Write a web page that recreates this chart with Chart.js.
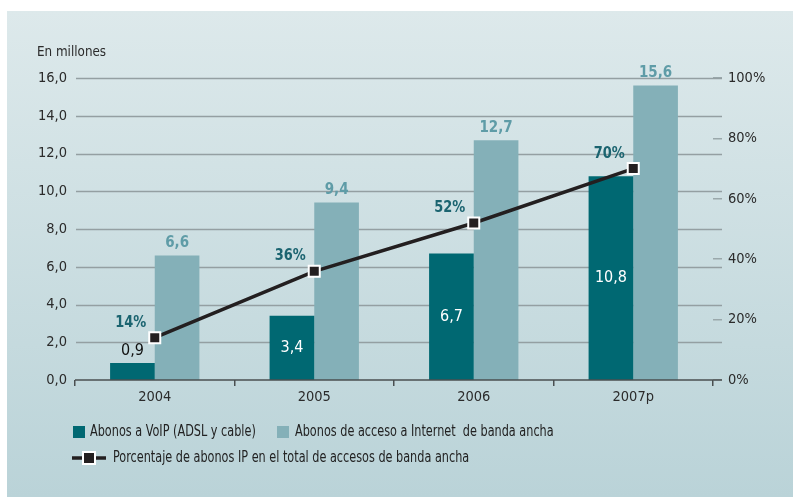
<!DOCTYPE html>
<html>
<head>
<meta charset="utf-8">
<script src="https://cdn.jsdelivr.net/npm/chart.js@4.4.1/dist/chart.umd.min.js"></script>
<style>
html, body { margin: 0; padding: 0; background: #fff; }
#wrap { position: relative; width: 793px; height: 497px; overflow: hidden; }
#panel { position: absolute; left: 7px; top: 11px; right: 0; bottom: 0;
  background: linear-gradient(#dde9eb, #bad3d8); }
canvas { position: absolute; left: 0; top: 0; }
</style>
</head>
<body>
<div id="wrap">
  <div id="panel"></div>
  <canvas id="chart" width="793" height="497"></canvas>
</div>
<script>
// Data
const years = ['2004', '2005', '2006', '2007p'];
const voip = [0.9, 3.4, 6.7, 10.8];            // millones
const broadband = [6.6, 9.4, 12.7, 15.6];      // millones
const ipShare = [14, 36, 52, 70];              // %
const leftTicks = [0, 2, 4, 6, 8, 10, 12, 14, 16];

const FONT = '"Liberation Sans Narrow", "DejaVu Sans Condensed", "Liberation Sans", sans-serif';
const DARK = '#006872';
const LIGHT = '#84b0b8';
const LINE = '#231f20';

const fmt = v => v.toFixed(1).replace('.', ',');

// squeezed text, the original uses a condensed face
function narrowText(ctx, s, x, y, sx) {
  ctx.save();
  ctx.translate(x, y);
  ctx.scale(sx, 1);
  ctx.fillText(s, 0, 0);
  ctx.restore();
}

// Gridlines that run past the plot area, plus axis line
const gridPlugin = {
  id: 'grid',
  beforeDatasetsDraw(chart) {
    const ctx = chart.ctx, y = chart.scales.y, ca = chart.chartArea;
    ctx.save();
    ctx.lineWidth = 1.5;
    ctx.strokeStyle = '#949fa2';
    leftTicks.forEach(t => {
      if (t === 0) return;
      const py = Math.round(y.getPixelForValue(t)) + 0.5;
      ctx.beginPath(); ctx.moveTo(ca.left + 1, py); ctx.lineTo(ca.right + 9, py); ctx.stroke();
    });
    ctx.restore();
  },
  afterDatasetsDraw(chart) {
    const ctx = chart.ctx, ca = chart.chartArea;
    ctx.save();
    ctx.lineWidth = 1.5;
    ctx.strokeStyle = '#4a4f50';
    ctx.beginPath(); ctx.moveTo(ca.left, ca.bottom); ctx.lineTo(ca.right + 9, ca.bottom); ctx.stroke();
    ctx.restore();
  }
};

// Value labels, title and legend
const labelPlugin = {
  id: 'labels',
  afterDraw(chart) {
    const ctx = chart.ctx;
    const mDark = chart.getDatasetMeta(0).data;
    const mLight = chart.getDatasetMeta(1).data;
    const mLine = chart.getDatasetMeta(2).data;
    ctx.save();
    ctx.textAlign = 'center';
    ctx.textBaseline = 'middle';

    // VoIP values
    ctx.font = '16px ' + FONT;
    voip.forEach((v, i) => {
      const b = mDark[i];
      if (v < 2) {
        ctx.fillStyle = '#111';
        ctx.fillText(fmt(v), b.x, b.y - 12);
      } else {
        ctx.fillStyle = '#fff';
        ctx.fillText(fmt(v), b.x, (b.y + b.base) / 2);
      }
    });

    // broadband values
    ctx.font = 'bold 15px ' + FONT;
    ctx.fillStyle = '#5f9ca7';
    broadband.forEach((v, i) => {
      const b = mLight[i];
      ctx.fillText(fmt(v), b.x, b.y - 12);
    });

    // percentage labels
    ctx.font = 'bold 16px ' + FONT;
    ctx.fillStyle = '#1b6470';
    ipShare.forEach((v, i) => {
      const p = mLine[i];
      narrowText(ctx, v + '%', p.x - 24, p.y - 15, 0.9);
    });

    // axis title
    ctx.textAlign = 'left';
    ctx.fillStyle = '#2b2b2b';
    ctx.font = '14px ' + FONT;
    narrowText(ctx, 'En millones', 37, 52, 0.95);

    // legend
    ctx.font = '15px ' + FONT;
    ctx.fillStyle = DARK;
    ctx.fillRect(73, 426, 12, 12);
    ctx.fillStyle = LIGHT;
    ctx.fillRect(277, 426, 12, 12);
    ctx.fillStyle = '#222';
    narrowText(ctx, 'Abonos a VoIP (ADSL y cable)', 90, 432, 0.835);
    narrowText(ctx, 'Abonos de acceso a Internet  de banda ancha', 295, 432, 0.835);

    ctx.strokeStyle = LINE;
    ctx.lineWidth = 3.5;
    ctx.beginPath(); ctx.moveTo(72, 458); ctx.lineTo(106, 458); ctx.stroke();
    ctx.fillStyle = '#fff';
    ctx.fillRect(82, 451, 14, 14);
    ctx.fillStyle = LINE;
    ctx.fillRect(84, 453, 10, 10);
    ctx.fillStyle = '#222';
    narrowText(ctx, 'Porcentaje de abonos IP en el total de accesos de banda ancha', 113, 458, 0.835);
    ctx.restore();
  }
};

new Chart(document.getElementById('chart'), {
  type: 'bar',
  data: {
    labels: years,
    datasets: [
      {
        label: 'Abonos a VoIP (ADSL y cable)',
        data: voip,
        backgroundColor: DARK,
        yAxisID: 'y',
        order: 2,
        categoryPercentage: 0.56,
        barPercentage: 1
      },
      {
        label: 'Abonos de acceso a Internet  de banda ancha',
        data: broadband,
        backgroundColor: LIGHT,
        yAxisID: 'y',
        order: 2,
        categoryPercentage: 0.56,
        barPercentage: 1
      },
      {
        type: 'line',
        label: 'Porcentaje de abonos IP en el total de accesos de banda ancha',
        data: ipShare,
        yAxisID: 'y2',
        order: 0,
        borderColor: LINE,
        borderWidth: 3.5,
        pointStyle: 'rect',
        pointRadius: 7.8,
        pointBackgroundColor: LINE,
        pointBorderColor: '#fff',
        pointBorderWidth: 2,
        tension: 0
      }
    ]
  },
  options: {
    responsive: false,
    animation: false,
    layout: { padding: { top: 78, bottom: 77, left: 0, right: 0 } },
    plugins: {
      legend: { display: false },
      tooltip: { enabled: false }
    },
    scales: {
      x: {
        grid: { display: true, drawOnChartArea: false, drawTicks: true, tickLength: 6, color: '#4a4f50', lineWidth: 1.5 },
        border: { display: false },
        ticks: { color: '#2b2b2b', font: { family: FONT, size: 14.5 }, padding: 3 },
        afterFit(s) { s.height = 40; }
      },
      y: {
        position: 'left',
        min: 0, max: 16,
        grid: { display: false, drawTicks: false },
        border: { display: false },
        ticks: {
          stepSize: 2,
          padding: 8,
          color: '#2b2b2b',
          font: { family: FONT, size: 14.5 },
          callback: v => fmt(v)
        },
        afterFit(s) { s.width = 75; }
      },
      y2: {
        position: 'right',
        min: 0, max: 100,
        grid: { display: true, drawOnChartArea: false, drawTicks: true, tickLength: 9, color: '#9aa8ab', lineWidth: 1.5 },
        border: { display: false },
        ticks: {
          stepSize: 20,
          padding: 6,
          color: '#2b2b2b',
          font: { family: FONT, size: 14.5 },
          callback: v => v + '%'
        },
        afterFit(s) { s.width = 80; }
      }
    }
  },
  plugins: [gridPlugin, labelPlugin]
});
</script>
</body>
</html>
